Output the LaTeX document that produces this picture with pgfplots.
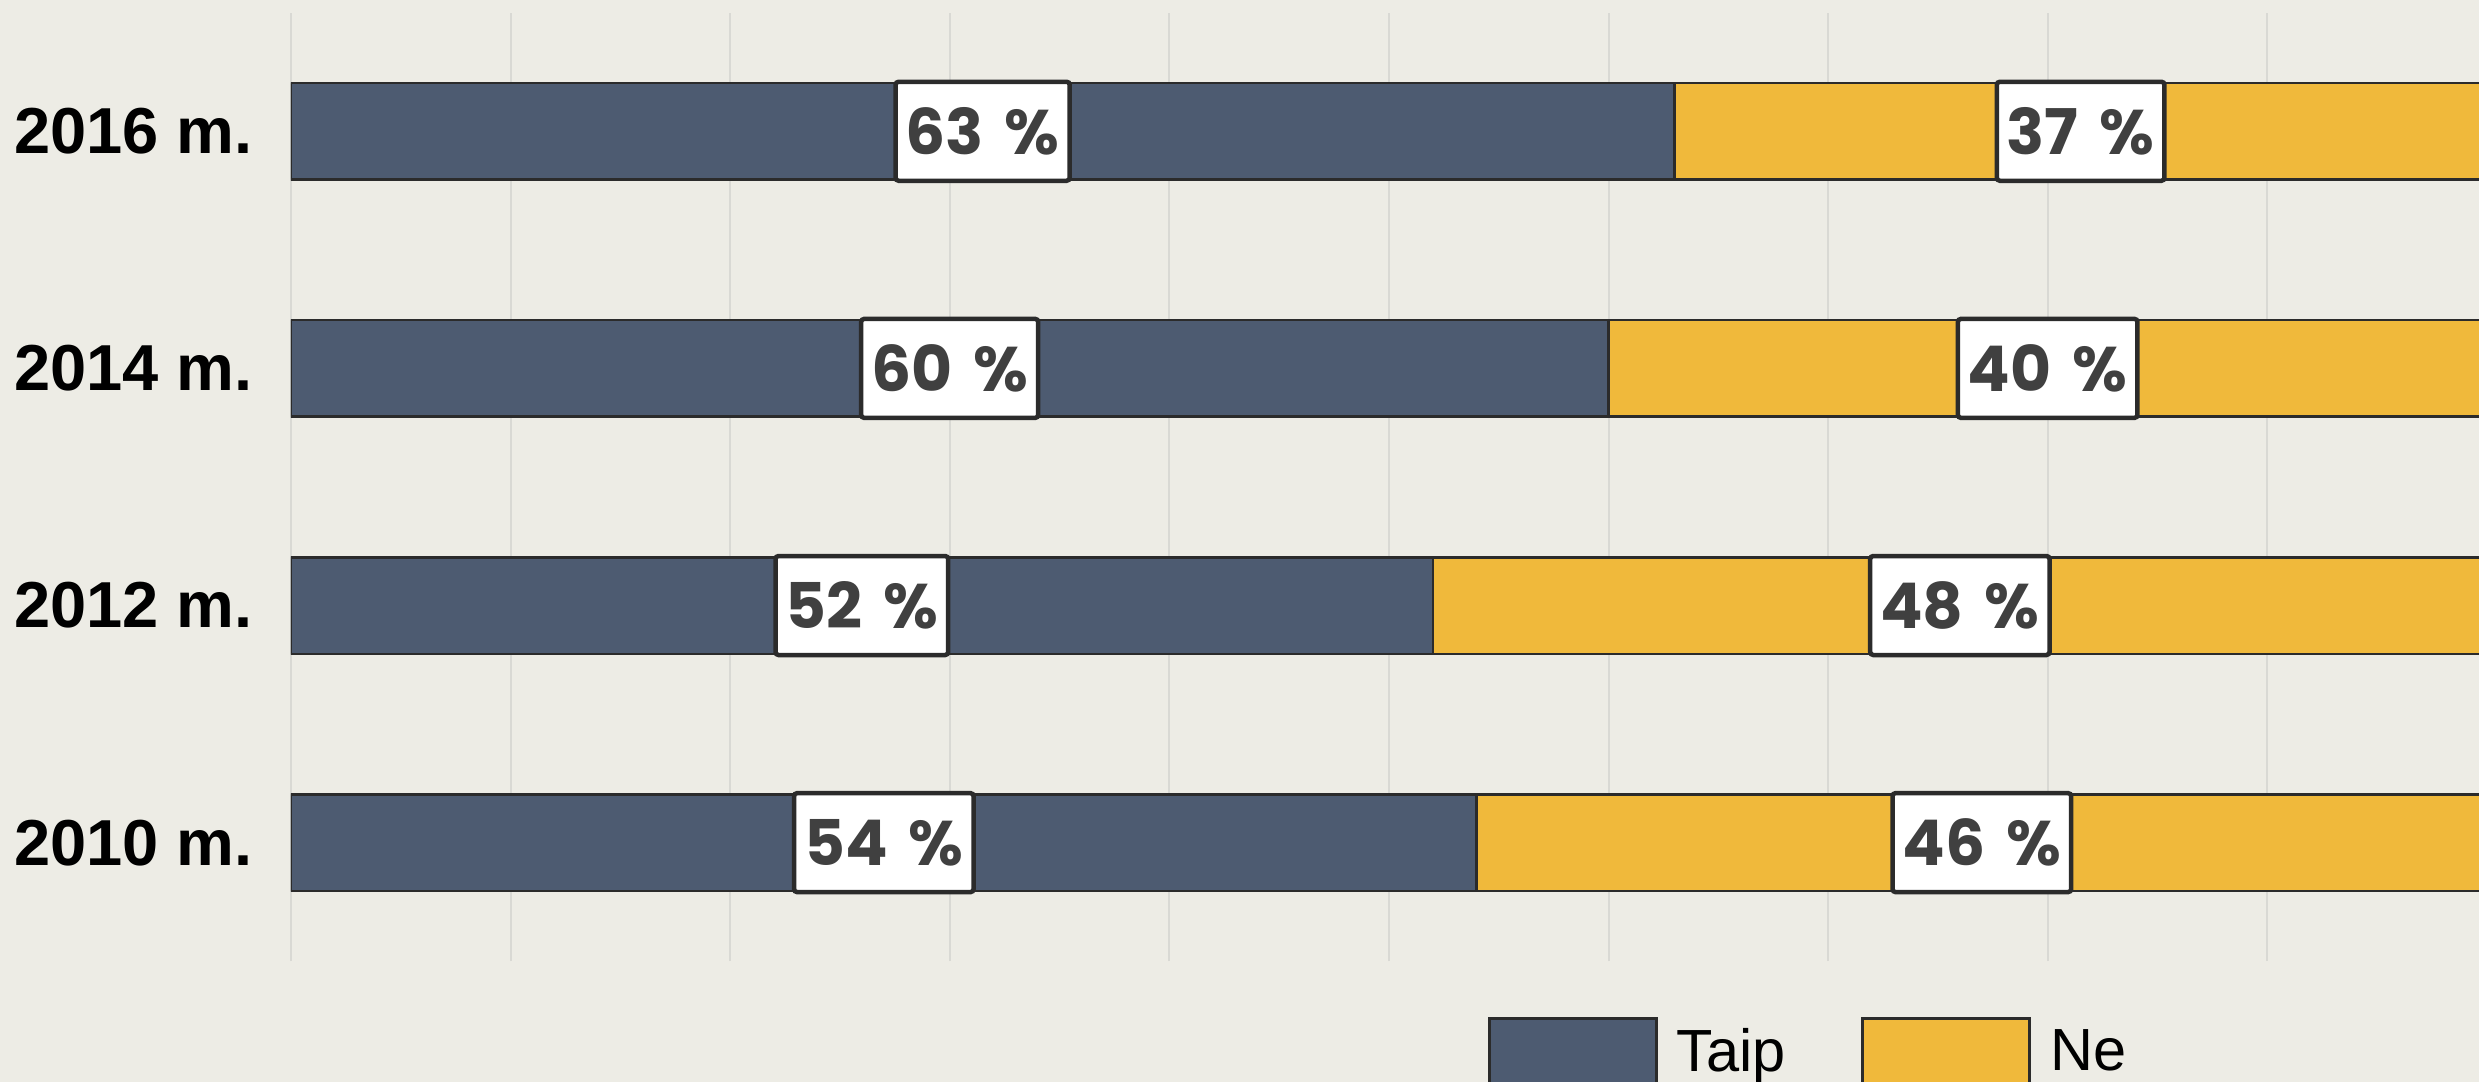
\documentclass[border=0pt]{standalone}
\usepackage{fontspec}
\usepackage{pgfplots}
\usepackage{pgfplotstable}
\pgfplotsset{compat=1.18}
\setmainfont{Liberation Sans}
\newfontfamily\poppins{Poppins}
\definecolor{bgc}{HTML}{EDECE5}
\definecolor{taip}{HTML}{4D5B71}
\definecolor{ne}{HTML}{F0B93B}
\definecolor{edge}{HTML}{2B2B2B}
\definecolor{gridc}{HTML}{D9D9D4}
\definecolor{labtxt}{HTML}{404040}
\pgfplotstableread{
y taip ne
0 54 46
1 52 48
2 60 40
3 63 37
}\datatab
\pgfplotstableread{
x y v
31.5 3 63
81.5 3 37
30 2 60
80 2 40
26 1 52
76 1 48
27 0 54
77 0 46
}\labtab
\begin{document}
\begin{tikzpicture}
\useasboundingbox (0pt,0pt) rectangle (495.8pt,216.4pt);
\clip (0pt,0pt) rectangle (495.8pt,216.4pt);
\fill[bgc] (0pt,0pt) rectangle (495.8pt,216.4pt);
\begin{axis}[
  at={(58.18pt,24.16pt)}, anchor=south west,
  scale only axis, width=439.2pt, height=189.7pt,
  xmin=0, xmax=100, ymin=-0.5, ymax=3.5,
  xbar stacked, bar width=19.3pt,
  xtick={0,10,...,100}, xticklabels={},
  xmajorgrids, major grid style={draw=gridc, line width=0.4pt},
  ytick={0,1,2,3}, yticklabels={2010 m.,2012 m.,2014 m.,2016 m.},
  yticklabel style={font=\bfseries\fontsize{13}{15}\selectfont, text=black, anchor=east, inner sep=0pt, xshift=-7.4pt},
  axis line style={draw=none}, major tick length=0pt, tick style={draw=none},
  legend columns=2, legend cell align=left,
  legend style={draw=none, fill=none, inner sep=0pt, outer sep=0pt,
    at={(0.5449,-0.0585)}, anchor=north west,
    font=\fontsize{11.9}{13}\selectfont,
    nodes={inner sep=0pt, text depth=0.15em},
    /tikz/every even column/.append style={column sep=15pt}},
  legend image code/.code={\draw[#1, line width=0.6pt] (0pt,-14pt) rectangle (33.4pt,7.2pt); \path (37.3pt,0pt);},
]
\addplot[fill=taip, draw=edge, line width=0.5pt] table[x=taip, y=y] {\datatab};
\addlegendentry{Taip}
\addplot[fill=ne, draw=edge, line width=0.5pt] table[x=ne, y=y] {\datatab};
\addlegendentry{Ne}
\end{axis}
\begin{axis}[
  at={(58.18pt,24.16pt)}, anchor=south west,
  scale only axis, width=439.2pt, height=189.7pt,
  xmin=0, xmax=100, ymin=-0.5, ymax=3.5,
  hide axis, clip=false]
\addplot[only marks, mark=*, mark options={draw=none, fill=none},
  point meta=explicit,
  /pgf/number format/assume math mode=true,
  nodes near coords={\pgfmathprintnumber{\pgfplotspointmeta}\hspace{4.2pt}\%},
  nodes near coords align={center},
  every node near coord/.append style={anchor=center, draw=edge, line width=0.9pt, fill=white, text=labtxt,
    font=\poppins\bfseries\fontsize{12.6}{14}\selectfont, minimum height=19.8pt, inner xsep=2pt, inner ysep=0pt, rounded corners=0.6pt}]
  table[x=x, y=y, meta=v] {\labtab};
\end{axis}
\end{tikzpicture}
\end{document}
